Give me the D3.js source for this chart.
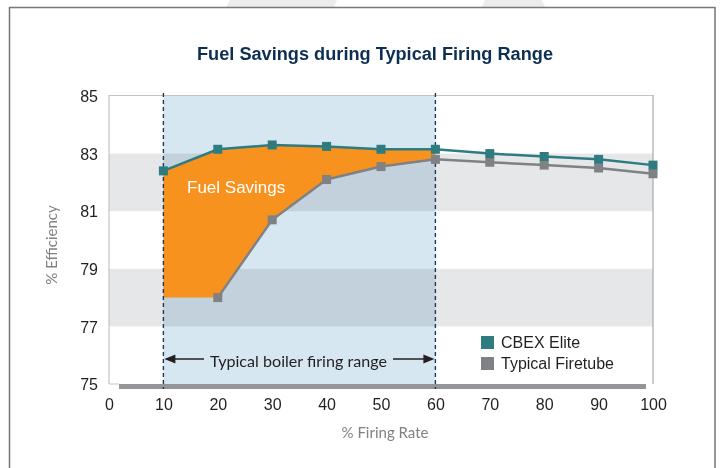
<!DOCTYPE html>
<html>
<head>
<meta charset="utf-8">
<script src="https://cdn.jsdelivr.net/npm/d3@7"></script>
<style>
  body { margin: 0; background: #fff; }
  svg { display: block; }
</style>
</head>
<body>
<div id="chart"></div>
<script>
const firingRate = [10, 20, 30, 40, 50, 60, 70, 80, 90, 100];
const cbexElite = [82.4, 83.15, 83.3, 83.25, 83.15, 83.15, 83.0, 82.9, 82.8, 82.6];
const typicalFiretube = [null, 78.0, 80.7, 82.1, 82.55, 82.8, 82.7, 82.6, 82.5, 82.3];
const savingsFloor = 78; // orange area bottom where firetube has no point
const typicalRange = [10, 60];
const grayBands = [[77, 79], [81, 83]];
const xTicks = [0, 10, 20, 30, 40, 50, 60, 70, 80, 90, 100];
const yTicks = [75, 77, 79, 81, 83, 85];
const seriesNames = ['CBEX Elite', 'Typical Firetube'];

const W = 720, H = 468;
const teal = '#2e7b80', gray = '#808184', orange = '#f7921e', navy = '#1b3a5c';

const svg = d3.select('#chart').append('svg')
  .attr('width', W).attr('height', H);

// faint watermark shapes above the card
svg.append('path').attr('d', 'M230,0 L337,0 L334,7 L226,7 Z').attr('fill', '#ececec');
svg.append('path').attr('d', 'M485,0 L542,0 L545,7 L482,7 Z').attr('fill', '#ececec');

// card frame
svg.append('path').attr('d', 'M9.5,468 L9.5,7.5 L715,7.5 L715,468')
  .attr('fill', 'none').attr('stroke', '#7d7672').attr('stroke-width', 1.5);

const x = d3.scaleLinear().domain([0, 100]).range([109, 653]);
const y = d3.scaleLinear().domain([75, 85]).range([384, 96]);
const [x0, x1] = x.range();
const [yb, yt] = y.range();

// title
svg.append('text')
  .attr('x', 375).attr('y', 60)
  .attr('text-anchor', 'middle')
  .attr('font-family', '"Liberation Sans Narrow", "Liberation Sans", Arial, sans-serif')
  .attr('font-weight', 'bold').attr('font-size', 18)
  .attr('textLength', 356).attr('lengthAdjust', 'spacingAndGlyphs')
  .attr('fill', '#0d2f52')
  .text('Fuel Savings during Typical Firing Range');

const plot = svg.append('g');

// gray bands
plot.selectAll('.band').data(grayBands).enter().append('rect')
  .attr('x', x0).attr('width', x1 - x0)
  .attr('y', d => y(d[1])).attr('height', d => y(d[0]) - y(d[1]))
  .attr('fill', '#e6e7e8');

// typical firing range shading
plot.append('rect')
  .attr('x', x(typicalRange[0])).attr('width', x(typicalRange[1]) - x(typicalRange[0]))
  .attr('y', yt).attr('height', yb - yt)
  .attr('fill', '#d7e7f1').style('mix-blend-mode', 'multiply');

// plot border
plot.append('path')
  .attr('d', `M${x0},${yb} L${x0},${yt - 0.5} L${x1},${yt - 0.5}`)
  .attr('fill', 'none').attr('stroke', '#c4c4c4').attr('stroke-width', 1.2);
plot.append('line')
  .attr('x1', x1).attr('x2', x1).attr('y1', yt - 1).attr('y2', yb)
  .attr('stroke', '#a7a9ac').attr('stroke-width', 1.2);
plot.append('line')
  .attr('x1', x0).attr('x2', x0 + 10).attr('y1', yb).attr('y2', yb)
  .attr('stroke', '#c4c4c4').attr('stroke-width', 1);
plot.append('rect')
  .attr('x', x0 + 10).attr('width', x1 - x0 - 17)
  .attr('y', yb).attr('height', 5)
  .attr('fill', '#939598');

// fuel savings area
const rows = firingRate.map((r, i) => ({ r, top: cbexElite[i], bottom: typicalFiretube[i] }));
const inRange = rows.filter(d => d.r >= typicalRange[0] && d.r <= typicalRange[1]);
const area = d3.area()
  .x(d => x(d.r))
  .y0(d => y(d.bottom == null ? savingsFloor : d.bottom))
  .y1(d => y(d.top));
plot.append('path').datum(inRange)
  .attr('d', area).attr('fill', orange);

plot.append('text')
  .attr('x', 187).attr('y', 192.5)
  .attr('font-family', '"Liberation Sans", Arial, sans-serif')
  .attr('font-size', 17).attr('fill', '#fff')
  .text('Fuel Savings');

// dashed range markers
plot.selectAll('.rangeLine').data(typicalRange).enter().append('line')
  .attr('x1', d => x(d)).attr('x2', d => x(d))
  .attr('y1', yt - 3).attr('y2', yb + 5)
  .attr('stroke', navy).attr('stroke-width', 1.4)
  .attr('stroke-dasharray', '4,3');

// series lines and markers
function drawSeries(values, color) {
  const pts = firingRate.map((r, i) => ({ r, v: values[i] })).filter(d => d.v != null);
  const line = d3.line().x(d => x(d.r)).y(d => y(d.v));
  plot.append('path').datum(pts)
    .attr('d', line).attr('fill', 'none')
    .attr('stroke', color).attr('stroke-width', 2.5);
  plot.selectAll(null).data(pts).enter().append('rect')
    .attr('x', d => x(d.r) - 4.5).attr('y', d => y(d.v) - 4.5)
    .attr('width', 9).attr('height', 9)
    .attr('fill', color);
}
drawSeries(typicalFiretube, gray);
drawSeries(cbexElite, teal);

// axes
const yAxis = svg.append('g')
  .attr('transform', `translate(${x0},0)`)
  .call(d3.axisLeft(y).tickValues(yTicks).tickSize(0).tickPadding(11));
const xAxis = svg.append('g')
  .attr('transform', `translate(0,${yb})`)
  .call(d3.axisBottom(x).tickValues(xTicks).tickSize(0).tickPadding(15));
[yAxis, xAxis].forEach(ax => {
  ax.select('.domain').remove();
  ax.selectAll('text')
    .attr('font-family', '"Liberation Sans", Arial, sans-serif')
    .attr('font-size', 16).attr('fill', '#231f20');
});
yAxis.selectAll('text').attr('dy', '0.36em');

svg.append('text')
  .attr('transform', 'translate(57,245) rotate(-90)')
  .attr('text-anchor', 'middle')
  .attr('font-family', 'Lato, "Open Sans", sans-serif')
  .attr('font-size', 15).attr('fill', '#808285')
  .text('% Efficiency');
svg.append('text')
  .attr('x', 385).attr('y', 438)
  .attr('text-anchor', 'middle')
  .attr('font-family', 'Lato, "Open Sans", sans-serif')
  .attr('font-size', 15).attr('fill', '#808285')
  .text('% Firing Rate');

// range annotation with arrows
const ay = 359;
const ann = svg.append('g');
ann.append('line')
  .attr('x1', x(typicalRange[0]) + 8).attr('x2', 204).attr('y1', ay).attr('y2', ay)
  .attr('stroke', '#231f20').attr('stroke-width', 1.6);
ann.append('line')
  .attr('x1', 393).attr('x2', x(typicalRange[1]) - 8).attr('y1', ay).attr('y2', ay)
  .attr('stroke', '#231f20').attr('stroke-width', 1.6);
ann.append('path')
  .attr('d', `M${x(typicalRange[0]) + 1},${ay} l11,-4.5 l0,9 Z`).attr('fill', '#231f20');
ann.append('path')
  .attr('d', `M${x(typicalRange[1]) - 1},${ay} l-11,-4.5 l0,9 Z`).attr('fill', '#231f20');
ann.append('text')
  .attr('x', 210).attr('y', 366.5)
  .attr('font-family', 'Lato, "Open Sans", sans-serif')
  .attr('font-size', 16).attr('fill', '#231f20')
  .attr('textLength', 177).attr('lengthAdjust', 'spacingAndGlyphs')
  .text('Typical boiler firing range');

// legend
const legend = svg.append('g').attr('transform', 'translate(481,336)');
const lg = legend.selectAll('g').data(seriesNames).enter().append('g')
  .attr('transform', (d, i) => `translate(0,${i * 21})`);
lg.append('rect').attr('width', 13).attr('height', 13)
  .attr('fill', (d, i) => i === 0 ? teal : gray);
lg.append('text')
  .attr('x', 20).attr('y', 12.3)
  .attr('font-family', '"Liberation Sans", Arial, sans-serif')
  .attr('font-size', 16).attr('fill', '#231f20')
  .text(d => d);
</script>
</body>
</html>
